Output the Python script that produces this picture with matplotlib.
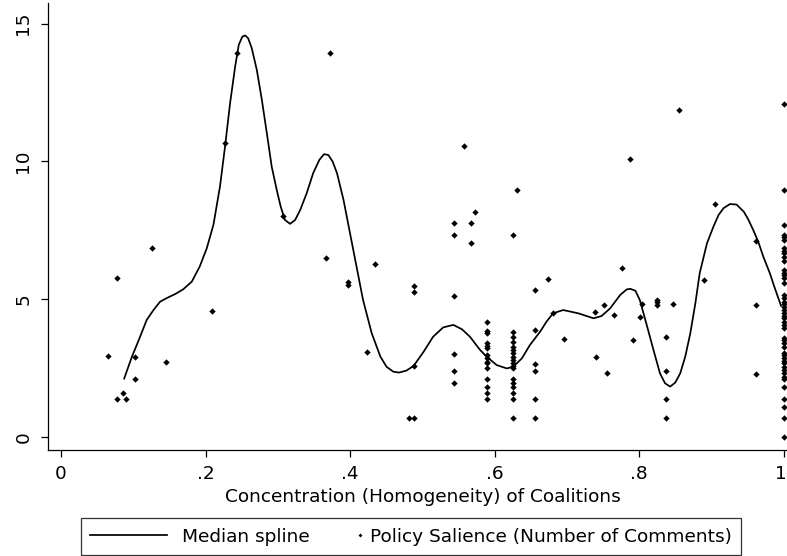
import numpy as np
import matplotlib
matplotlib.use("Agg")
import matplotlib.pyplot as plt
from matplotlib.lines import Line2D
from matplotlib.legend_handler import HandlerBase
from matplotlib.transforms import ScaledTranslation

plt.rcParams['font.family'] = ['DejaVu Sans']

# ---- data -------------------------------------------------------------
# isolated observations: concentration, salience
single_x = [0.065, 0.077, 0.078, 0.086, 0.090, 0.103, 0.103, 0.126, 0.146,
            0.209, 0.227, 0.244, 0.307, 0.367, 0.372, 0.397, 0.397, 0.424,
            0.434, 0.481, 0.488, 0.488, 0.488, 0.488, 0.558, 0.567, 0.567,
            0.573, 0.631, 0.674, 0.681, 0.696, 0.739, 0.740, 0.751, 0.755,
            0.765, 0.776, 0.787, 0.792, 0.801, 0.804, 0.847, 0.855, 0.890,
            0.905]
single_y = [2.93, 5.78, 1.38, 1.60, 1.38, 2.88, 2.08, 6.85, 2.70,
            4.58, 10.66, 13.95, 8.02, 6.49, 13.95, 5.62, 5.52, 3.09,
            6.28, 0.68, 0.68, 2.57, 5.26, 5.47, 10.55, 7.77, 7.04,
            8.16, 8.95, 5.72, 4.48, 3.54, 4.52, 2.88, 4.77, 2.30,
            4.41, 6.12, 10.10, 3.51, 4.35, 4.82, 4.82, 11.88, 5.70,
            8.46]

# columns of observations sharing the same concentration value
col_x = [0.544, 0.589, 0.626, 0.656, 0.825, 0.837, 0.962, 1.0]
col_y = [
    [7.75, 7.34, 5.11, 2.99, 2.39, 1.94],
    [4.15, 3.83, 3.75, 3.39, 3.31, 3.21, 2.97, 2.85, 2.72, 2.66, 2.48,
     2.08, 1.79, 1.60, 1.38],
    [7.34, 3.81, 3.61, 3.45, 3.27, 3.15, 3.03, 2.91, 2.79, 2.67, 2.57,
     2.48, 2.08, 1.94, 1.79, 1.60, 1.38, 0.68],
    [5.33, 3.87, 2.63, 2.39, 1.38, 0.68],
    [4.97, 4.88, 4.79],
    [3.63, 2.39, 1.38, 0.68],
    [7.11, 4.77, 2.29],
    [12.07, 8.97, 7.68, 7.32, 7.24, 7.14, 6.84, 6.76, 6.66, 6.54, 6.38,
     6.05, 5.96, 5.87, 5.75, 5.59, 5.15, 5.05, 4.90, 4.81, 4.72, 4.60,
     4.48, 4.38, 4.30, 4.18, 4.06, 3.94, 3.60, 3.51, 3.39, 3.27, 3.03,
     2.97, 2.85, 2.75, 2.67, 2.54, 2.42, 2.30, 2.18, 2.08, 1.79, 1.38,
     1.08, 0.68, 0.0],
]

# median spline
spline_x = [0.087, 0.0978, 0.109, 0.1186, 0.128, 0.137, 0.146, 0.158, 0.169,
            0.181, 0.192, 0.2017, 0.211, 0.220, 0.227, 0.234, 0.241, 0.246,
            0.251, 0.255, 0.259, 0.264, 0.271, 0.278, 0.285, 0.2916, 0.2986,
            0.304, 0.310, 0.317, 0.324, 0.331, 0.340, 0.349, 0.3575, 0.364,
            0.370, 0.376, 0.382, 0.391, 0.400, 0.409, 0.418, 0.430, 0.442,
            0.4505, 0.460, 0.468, 0.478, 0.488, 0.502, 0.515, 0.529, 0.543,
            0.555, 0.566, 0.580, 0.589, 0.603, 0.617, 0.626, 0.638, 0.649,
            0.663, 0.672, 0.681, 0.695, 0.716, 0.737, 0.748, 0.760, 0.774,
            0.783, 0.788, 0.795, 0.801, 0.810, 0.820, 0.829, 0.836, 0.843,
            0.850, 0.857, 0.864, 0.871, 0.878, 0.884, 0.894, 0.903, 0.910,
            0.917, 0.926, 0.935, 0.945, 0.951, 0.958, 0.965, 0.972, 0.981,
            0.988, 0.997]
spline_y = [2.08, 2.88, 3.60, 4.24, 4.60, 4.90, 5.03, 5.18, 5.35,
            5.63, 6.18, 6.84, 7.70, 9.08, 10.53, 12.11, 13.44, 14.23,
            14.53, 14.57, 14.47, 14.11, 13.32, 12.23, 11.00, 9.81, 8.96,
            8.36, 7.87, 7.73, 7.87, 8.23, 8.84, 9.57, 10.05, 10.26,
            10.23, 9.99, 9.57, 8.60, 7.39, 6.18, 4.97, 3.76, 2.91,
            2.54, 2.36, 2.33, 2.40, 2.57, 3.09, 3.63, 3.97, 4.06,
            3.90, 3.63, 3.15, 2.91, 2.60, 2.48, 2.54, 2.85, 3.33,
            3.81, 4.18, 4.48, 4.60, 4.48, 4.30, 4.38, 4.66, 5.15,
            5.35, 5.37, 5.30, 4.97, 4.12, 3.15, 2.30, 1.94, 1.82,
            1.96, 2.30, 2.91, 3.76, 4.85, 5.94, 7.02, 7.63, 8.05,
            8.30, 8.45, 8.43, 8.17, 7.90, 7.51, 7.08, 6.54, 5.94,
            5.39, 4.72]

x_ticks = [0, 0.2, 0.4, 0.6, 0.8, 1.0]
x_ticklabels = ["0", ".2", ".4", ".6", ".8", "1"]
y_ticks = [0, 5, 10, 15]
y_ticklabels = ["0", "5", "10", "15"]

# ---- assemble scatter -------------------------------------------------
pts_x = list(single_x)
pts_y = list(single_y)
for cx, vals in zip(col_x, col_y):
    pts_x += [cx] * len(vals)
    pts_y += vals

FS = 13.3

fig = plt.figure(figsize=(7.87, 5.56), dpi=100)
ax = fig.add_axes([48 / 787, 106 / 556, 739 / 787, 447 / 556])

ax.plot(spline_x, spline_y, color='black', lw=1.25, zorder=3,
        solid_joinstyle='round', solid_capstyle='butt')
ax.plot(pts_x, pts_y, linestyle='none', marker='D', markersize=2.9,
        markeredgewidth=0.3, color='black', zorder=4)

ax.set_xlim(-0.018, 1.0048)
ax.set_ylim(-0.483, 15.75)
ax.set_xticks(x_ticks)
ax.set_xticklabels(x_ticklabels)
ax.set_yticks(y_ticks)
ax.set_yticklabels(y_ticklabels, rotation=90, va='center')

for s in ('top', 'right'):
    ax.spines[s].set_visible(False)
for s in ('left', 'bottom'):
    ax.spines[s].set_linewidth(0.9)
ax.tick_params(axis='both', direction='out', length=5, width=0.9,
               labelsize=FS, colors='black')
ax.tick_params(axis='x', pad=5.6)
ax.tick_params(axis='y', pad=6.3)
ax.set_xlabel("Concentration (Homogeneity) of Coalitions", fontsize=FS)
ax.xaxis.set_label_coords((423 - 48) / 739, -(488.0 - 450) / 447)

# keep the last x tick label ("1") inside the figure edge
last_lbl = ax.xaxis.get_major_ticks()[-1].label1
last_lbl.set_transform(last_lbl.get_transform()
                       + ScaledTranslation(-3.0 / 100, 0, fig.dpi_scale_trans))


class RightMarkerHandler(HandlerBase):
    """Legend handle whose marker sits just left of its label."""
    def create_artists(self, legend, orig_handle, xdescent, ydescent,
                       width, height, fontsize, trans):
        x = -xdescent + width + 0.25 * fontsize
        y = (height - ydescent) / 2
        m = Line2D([x], [y])
        self.update_prop(m, orig_handle, legend)
        m.set_linestyle('none')
        m.set_transform(trans)
        return [m]


h_line = Line2D([], [], color='black', lw=1.25)
h_pts = Line2D([], [], color='black', linestyle='none', marker='D',
               markersize=2.0, markeredgewidth=0)

leg = fig.legend([h_line, h_pts],
                 ["Median spline", "Policy Salience (Number of Comments)"],
                 loc='upper left', bbox_to_anchor=(80.7 / 787, 1 - 518.3 / 556),
                 ncol=2, fontsize=FS, frameon=True, fancybox=False,
                 edgecolor='black', borderpad=0.51, handlelength=4.17,
                 handletextpad=0.80, columnspacing=-1.72, borderaxespad=0,
                 handler_map={h_pts: RightMarkerHandler()})
leg.get_frame().set_linewidth(0.9)

fig.savefig("out.png", dpi=100)
